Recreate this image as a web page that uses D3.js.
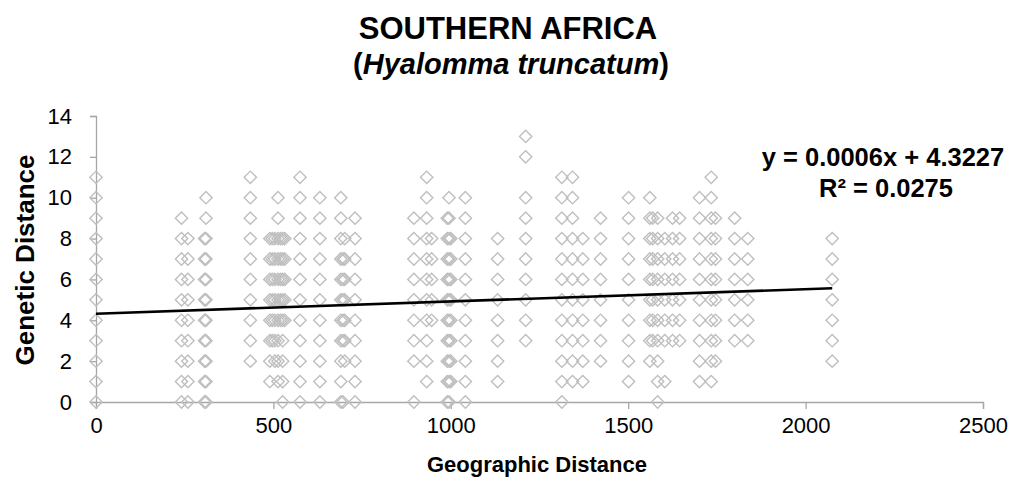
<!DOCTYPE html>
<html>
<head>
<meta charset="utf-8">
<script src="https://cdn.jsdelivr.net/npm/d3@7"></script>
<style>
  html, body { margin: 0; padding: 0; background: #fff; }
  svg { display: block; font-family: "Liberation Sans", Arial, sans-serif; }
</style>
</head>
<body>
<svg id="chart" width="1016" height="486"></svg>
<script>
// ---- data ----
const columnDistances = [0, 241, 259, 306, 310, 435, 490, 497, 504, 513, 520, 526, 532, 575, 631, 690, 696, 701, 730,
  896, 932, 946, 990, 995, 1000, 1041, 1132, 1211, 1313, 1343, 1372, 1422, 1501,
  1561, 1569, 1583, 1603, 1625, 1645, 1701, 1734, 1746, 1800, 1837, 2075];
const columnGenetic = [
  [0,1,2,3,4,5,6,7,8,9,10,11],
  [0,1,2,3,4,5,6,7,8,9],
  [0,1,2,3,4,5,6,7,8],
  [0,1,2,3,4,5,6,7,8],
  [0,1,2,3,4,5,6,7,8,9,10],
  [2,3,4,5,6,7,8,9,10,11],
  [1,2,3,4,5,6,7,8],
  [3,4,5,6,7,8],
  [2,3,4,5,6,7,8],
  [1,2,3,4,5,6,7,8,9,10],
  [4,5,6,7,8],
  [0,1,2,3,4,5,6,7,8],
  [4,5,6,7,8],
  [0,1,2,3,4,5,6,7,8,9,10,11],
  [0,1,2,3,4,5,6,7,8,9,10],
  [0,1,2,3,4,5,6,7,8,9,10],
  [0,3,4,5,6,7],
  [2,3,4,5,6,7,8],
  [0,1,2,3,4,5,6,7,8,9],
  [0,2,3,4,5,6,7,8,9],
  [1,2,3,4,5,6,7,8,9,10,11],
  [4,5,6,7,8],
  [0,1,2,3,4,5,6,7,8,9],
  [0,1,2,3,4,5,6,7,8,9,10],
  [1,2,3,4,5,6,7,8],
  [0,1,2,3,4,5,6,7,8,9,10],
  [1,2,3,4,5,6,7,8],
  [3,4,5,6,7,8,9,10,12,13],
  [0,1,2,3,4,5,6,7,8,9,10,11],
  [1,2,3,4,5,6,7,8,9,10,11],
  [1,2,3,4,5,6,7,8],
  [2,3,4,5,6,7,8,9],
  [1,2,3,4,5,6,7,8,9,10],
  [2,3,4,5,6,7,8,9,10],
  [3,4,5,6,7,8,9],
  [0,1,2,3,4,5,6,7,8,9],
  [1,3,4,5,6,7,8],
  [3,4,5,6,7,8,9],
  [3,4,5,6,7,8,9],
  [1,2,3,4,5,6,7,8,9,10],
  [1,2,3,4,5,6,7,8,9,10,11],
  [2,3,4,5,6,7,8,9],
  [3,4,5,6,7,8,9],
  [3,4,5,6,7,8],
  [2,3,4,5,6,7,8]
];
const xTicks = [0, 500, 1000, 1500, 2000, 2500];
const yTicks = [0, 2, 4, 6, 8, 10, 12, 14];
const trendSlope = 0.0006;
const trendIntercept = 4.3227;
const equationText = "y = 0.0006x + 4.3227";
const r2Text = "R² = 0.0275";

(function () {
// ---- build points ----
const points = [];
columnDistances.forEach((xv, i) => columnGenetic[i].forEach(yv => points.push({x: xv, y: yv})));
const maxX = d3.max(columnDistances);

const svg = d3.select("#chart");
const plotLeft = 96, plotRight = 983, plotTop = 116, plotBottom = 402;
const x = d3.scaleLinear().domain([0, 2500]).range([plotLeft, plotRight]);
const y = d3.scaleLinear().domain([0, 14]).range([plotBottom, plotTop]);
const axisColor = "#a6a6a6";

// axes
const gx = svg.append("g").attr("transform", `translate(0,${plotBottom})`)
  .call(d3.axisBottom(x).tickValues(xTicks).tickSize(7).tickPadding(8).tickFormat(d3.format("d")));
const gy = svg.append("g").attr("transform", `translate(${plotLeft},0)`)
  .call(d3.axisLeft(y).tickValues(yTicks).tickSize(6).tickPadding(18).tickFormat(d3.format("d")));
[gx, gy].forEach(g => {
  g.select(".domain").attr("stroke", axisColor).attr("stroke-width", 1.3);
  g.selectAll(".tick line").attr("stroke", axisColor).attr("stroke-width", 1.3);
  g.selectAll(".tick text").attr("fill", "#000").style("font-size", "22px")
    .style("font-family", '"Liberation Sans", Arial, sans-serif');
});
gx.selectAll(".tick text").attr("dy", "0.71em");

// points (open diamonds)
const diamond = d3.symbol().type(d3.symbolSquare).size(76);
svg.append("g").selectAll("path").data(points).join("path")
  .attr("d", diamond)
  .attr("transform", d => `translate(${x(d.x)},${y(d.y)}) rotate(45)`)
  .attr("fill", "none")
  .attr("stroke", "#bfbfbf")
  .attr("stroke-width", 1.4);

// trendline
svg.append("line")
  .attr("x1", x(0)).attr("y1", y(trendIntercept))
  .attr("x2", x(maxX)).attr("y2", y(trendIntercept + trendSlope * maxX))
  .attr("stroke", "#000").attr("stroke-width", 2.6);

// equation
svg.append("text").attr("x", 883).attr("y", 166).attr("text-anchor", "middle")
  .style("font-size", "25.5px").style("font-weight", "bold").text(equationText);
svg.append("text").attr("x", 886).attr("y", 197).attr("text-anchor", "middle")
  .style("font-size", "25.5px").style("font-weight", "bold").text(r2Text);

// title
svg.append("text").attr("x", 508).attr("y", 39).attr("text-anchor", "middle")
  .style("font-size", "31px").style("font-weight", "bold").text("SOUTHERN AFRICA");
const t2 = svg.append("text").attr("x", 511).attr("y", 74).attr("text-anchor", "middle")
  .style("font-size", "29px").style("font-weight", "bold");
t2.append("tspan").text("(");
t2.append("tspan").style("font-style", "italic").text("Hyalomma truncatum");
t2.append("tspan").text(")");

// axis titles
svg.append("text").attr("x", 537).attr("y", 472).attr("text-anchor", "middle")
  .style("font-size", "22px").style("font-weight", "bold").text("Geographic Distance");
svg.append("text").attr("transform", `translate(34,260) rotate(-90)`).attr("text-anchor", "middle")
  .style("font-size", "26px").style("font-weight", "bold").text("Genetic Distance");
})();
</script>
</body>
</html>
